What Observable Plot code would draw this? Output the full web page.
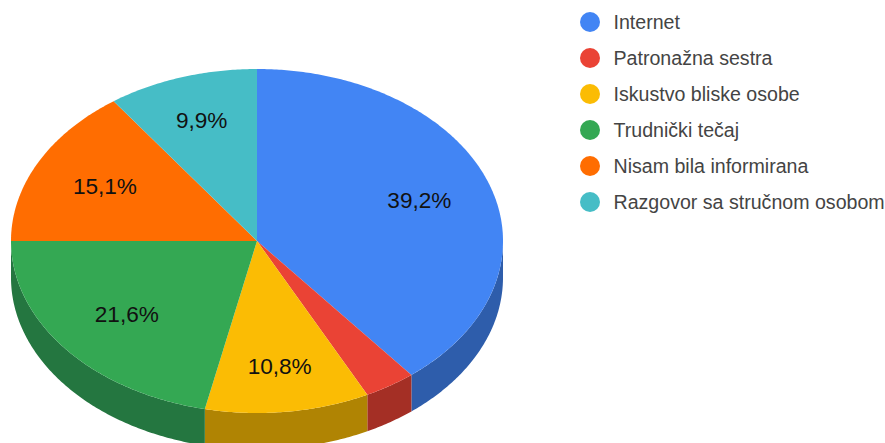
<!DOCTYPE html>
<html><head><meta charset="utf-8">
<script src="https://cdn.jsdelivr.net/npm/d3@7"></script>
<script src="https://cdn.jsdelivr.net/npm/@observablehq/plot@0.6"></script>
<style>
html,body{margin:0;padding:0;background:#fff;overflow:hidden}
#wrap{position:relative;width:885px;height:443px;overflow:hidden;font-family:"Liberation Sans",Arial,sans-serif}
#legend{position:absolute;left:580px;top:4px}
.item{display:flex;align-items:center;height:36px;font-size:19.6px;color:#444;white-space:nowrap}
.sw{width:20px;height:20px;border-radius:50%;margin-right:13.5px}
</style></head><body><div id="wrap"><div id="legend"></div></div>
<script>
const categories = ["Internet","Patronažna sestra","Iskustvo bliske osobe","Trudnički tečaj","Nisam bila informirana","Razgovor sa stručnom osobom"];
const shares = [39.2,3.4,10.8,21.6,15.1,9.9];
const labels = ["39,2%",null,"10,8%","21,6%","15,1%","9,9%"];
const labelRadii = [0.70,0,0.735,0.68,0.695,0.735];
const colors = ["#4285F4","#EA4335","#FBBC04","#34A853","#FF6D01","#46BDC6"];
const sideColors = ["#2E5DAB","#A42F25","#B08403","#247640","#B34C01","#31848B"];

const depth = 36.5/172;
const pt = a => ({x: Math.sin(a), y: Math.cos(a)});
let cum = 0;
const tops = [], sides = [], texts = [];
shares.forEach((s,i) => {
  const a0 = cum/100*2*Math.PI; cum += s;
  const a1 = cum/100*2*Math.PI;
  const n = Math.max(2, Math.ceil((a1-a0)/0.01));
  const arc = d3.range(n+1).map(k => a0+(a1-a0)*k/n);
  tops.push({x:0, y:0, i});
  arc.forEach(a => tops.push({...pt(a), i}));
  // visible outer wall: the part of the rim on the lower half of the ellipse
  const lo = Math.max(a0, Math.PI/2), hi = Math.min(a1, 3*Math.PI/2);
  if (hi > lo) {
    const m = Math.max(2, Math.ceil((hi-lo)/0.01));
    const wall = d3.range(m+1).map(k => lo+(hi-lo)*k/m);
    wall.forEach(a => sides.push({...pt(a), i}));
    wall.slice().reverse().forEach(a => { const p = pt(a); sides.push({x:p.x, y:p.y-depth, i}); });
  }
  if (labels[i]) {
    const p = pt((a0+a1)/2);
    texts.push({x:p.x*labelRadii[i], y:p.y*labelRadii[i], t:labels[i]});
  }
});

const svg = Plot.plot({
  width:885, height:443, margin:0,
  style:{background:"transparent", fontFamily:"'Liberation Sans',Arial,sans-serif"},
  x:{domain:[-1,1], range:[10.5,502.5], axis:null},
  y:{domain:[-1,1], range:[412.5,68.5], axis:null},
  marks:[
    Plot.line(sides,{x:"x",y:"y",z:"i",fill:d=>sideColors[d.i],stroke:"none",curve:"linear"}),
    Plot.line(tops,{x:"x",y:"y",z:"i",fill:d=>colors[d.i],stroke:"none",curve:"linear"}),
    Plot.text(texts,{x:"x",y:"y",text:"t",fontSize:22.6,fill:"#111",textAnchor:"middle"})
  ]
});
svg.style.position="absolute"; svg.style.left="0"; svg.style.top="0";
const wrap = document.getElementById("wrap");
wrap.insertBefore(svg, wrap.firstChild);
const legend = document.getElementById("legend");
categories.forEach((c,i)=>{
  const d=document.createElement("div"); d.className="item";
  const s=document.createElement("span"); s.className="sw"; s.style.background=colors[i];
  const t=document.createElement("span"); t.textContent=c;
  d.append(s,t); legend.append(d);
});
</script></body></html>
